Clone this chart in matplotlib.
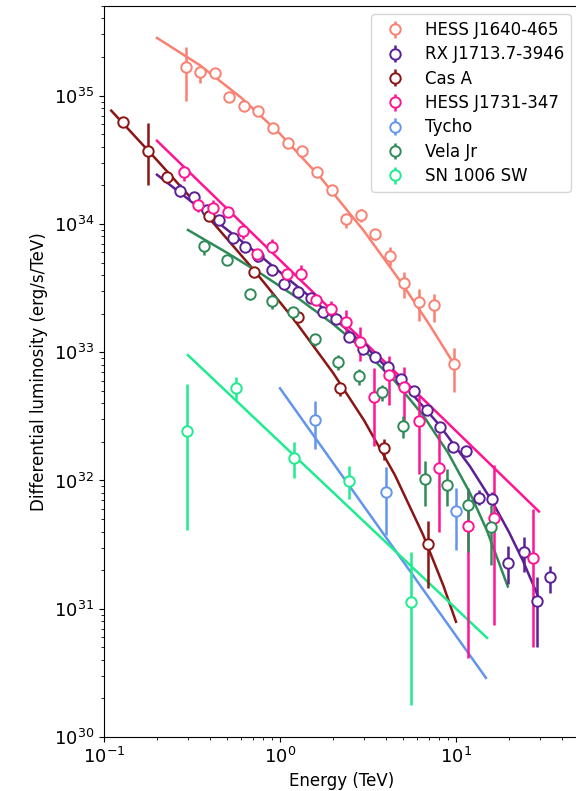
import numpy as np
import matplotlib.pyplot as plt

# ---- data (energy in TeV, luminosity in erg/s/TeV, errors in dex below/above) ----
j1640_E = [0.292, 0.351, 0.427, 0.513, 0.624, 0.750, 0.913, 1.11, 1.33, 1.62,
           1.97, 2.37, 2.89, 3.47, 4.22, 5.06, 6.16, 7.50, 9.75]
j1640_L = [1.66e35, 1.54e35, 1.49e35, 9.8e34, 8.35e34, 7.64e34, 5.62e34, 4.29e34,
           3.72e34, 2.55e34, 1.84e34, 1.09e34, 1.17e34, 8.35e33, 5.62e33, 3.46e33,
           2.46e33, 2.33e33, 8.06e32]
j1640_lo = [0.26, 0.09, 0.02, 0.02, 0.02, 0.02, 0.02, 0.02, 0.02, 0.02,
            0.02, 0.07, 0.05, 0.05, 0.08, 0.12, 0.15, 0.13, 0.22]
j1640_hi = [0.16, 0.05, 0.02, 0.02, 0.02, 0.02, 0.02, 0.02, 0.02, 0.02,
            0.02, 0.03, 0.05, 0.03, 0.07, 0.09, 0.10, 0.09, 0.13]
j1640_fitE = [0.2, 0.35, 0.6, 1.0, 1.7, 3.0, 5.0, 7.0, 10.0]
j1640_fitL = [2.82e35, 1.73e35, 9.68e34, 5.04e34, 2.30e34, 8.81e33, 3.34e33, 1.67e33, 7.64e32]

rxj_E = [0.270, 0.325, 0.385, 0.450, 0.541, 0.633, 0.750, 0.901, 1.054, 1.265,
         1.50, 1.755, 2.08, 2.47, 2.96, 3.47, 4.11, 4.87, 5.77, 6.84,
         8.11, 9.61, 11.4, 13.5, 16.0, 19.7, 24.3, 28.8, 34.2]
rxj_L = [1.81e34, 1.63e34, 1.29e34, 1.07e34, 7.78e33, 6.61e33, 5.62e33, 4.37e33,
         3.40e33, 2.94e33, 2.64e33, 2.05e33, 1.81e33, 1.31e33, 1.05e33, 9.14e32,
         7.64e32, 6.15e32, 4.96e32, 3.52e32, 2.59e32, 1.81e32, 1.69e32, 7.36e31,
         7.23e31, 2.29e31, 2.79e31, 1.15e31, 1.78e31]
rxj_lo = [0.05, 0.03, 0.03, 0.03, 0.03, 0.03, 0.03, 0.03, 0.03, 0.03,
          0.03, 0.03, 0.03, 0.03, 0.03, 0.03, 0.03, 0.03, 0.03, 0.03,
          0.03, 0.03, 0.03, 0.06, 0.05, 0.17, 0.16, 0.36, 0.13]
rxj_hi = [0.05, 0.03, 0.03, 0.03, 0.03, 0.03, 0.03, 0.03, 0.03, 0.03,
          0.03, 0.03, 0.03, 0.03, 0.03, 0.03, 0.03, 0.03, 0.03, 0.03,
          0.03, 0.03, 0.03, 0.06, 0.05, 0.13, 0.11, 0.19, 0.08]
rxj_fitE = [0.2, 0.4, 0.8, 1.5, 3.0, 5.0, 8.0, 12.0, 16.0, 20.0, 24.0, 29.2]
rxj_fitL = [2.42e34, 1.15e34, 5.42e33, 2.66e33, 1.14e33, 5.69e32, 2.73e32,
            1.29e32, 6.92e31, 3.96e31, 2.37e31, 1.26e31]

casa_E = [0.128, 0.178, 0.228, 0.395, 0.711, 1.27, 2.19, 3.90, 6.93]
casa_L = [6.26e34, 3.72e34, 2.33e34, 1.15e34, 4.22e33, 1.88e33, 5.23e32, 1.78e32, 3.22e31]
casa_lo = [0.04, 0.27, 0.03, 0.03, 0.03, 0.03, 0.06, 0.09, 0.35]
casa_hi = [0.04, 0.22, 0.03, 0.03, 0.03, 0.03, 0.03, 0.07, 0.18]
casa_fitE = [0.11, 0.2, 0.4, 0.7, 1.2, 2.0, 3.0, 4.5, 6.5, 8.5, 10.0]
casa_fitL = [7.64e34, 3.14e34, 1.09e34, 4.48e33, 1.80e33, 6.92e32, 2.95e32,
             1.10e32, 3.77e31, 1.50e31, 7.91e30]

j1731_E = [0.285, 0.342, 0.416, 0.507, 0.616, 0.740, 0.901, 1.10, 1.32, 1.60,
           1.95, 2.37, 2.85, 3.42, 4.16, 5.06, 6.16, 8.00, 11.7, 16.4, 27.4]
j1731_L = [2.55e34, 1.41e34, 1.33e34, 1.24e34, 8.82e33, 5.83e33, 6.61e33, 4.07e33,
           4.07e33, 2.55e33, 2.17e33, 1.72e33, 1.20e33, 4.45e32, 6.61e32, 5.33e32,
           2.89e32, 1.26e32, 4.45e31, 5.14e31, 2.50e31]
j1731_lo = [0.07, 0.06, 0.03, 0.03, 0.06, 0.06, 0.03, 0.05, 0.03, 0.03,
            0.03, 0.11, 0.15, 0.38, 0.23, 0.29, 0.41, 0.50, 1.03, 0.84, 0.70]
j1731_hi = [0.03, 0.03, 0.06, 0.03, 0.03, 0.03, 0.06, 0.03, 0.07, 0.03,
            0.06, 0.09, 0.12, 0.23, 0.15, 0.16, 0.20, 0.27, 0.28, 0.41, 0.38]
j1731_fitE = [0.2, 29.6]
j1731_fitL = [4.45e34, 5.73e31]

tycho_E = [1.58, 4.0, 10.0]
tycho_L = [2.94e32, 8.2e31, 5.73e31]
tycho_lo = [0.22, 0.34, 0.30]
tycho_hi = [0.15, 0.19, 0.18]
tycho_fitE = [1.0, 14.8]
tycho_fitL = [5.23e32, 2.89e30]

vela_E = [0.370, 0.500, 0.676, 0.901, 1.186, 1.58, 2.14, 2.81, 3.80, 5.00,
          6.67, 8.89, 11.7, 15.8]
vela_L = [6.73e33, 5.23e33, 2.84e33, 2.50e33, 2.05e33, 1.26e33, 8.35e32, 6.49e32,
          4.87e32, 2.64e32, 1.02e32, 9.30e31, 6.38e31, 4.37e31]
vela_lo = [0.07, 0.03, 0.05, 0.06, 0.03, 0.05, 0.06, 0.07, 0.07, 0.09, 0.21, 0.17, 0.36, 0.30]
vela_hi = [0.03, 0.03, 0.03, 0.06, 0.03, 0.03, 0.06, 0.06, 0.06, 0.08, 0.14, 0.12, 0.14, 0.17]
vela_fitE = [0.3, 0.5, 0.8, 1.3, 2.0, 3.0, 4.5, 6.5, 9.0, 12.0, 15.0, 19.7]
vela_fitL = [8.97e33, 5.96e33, 4.00e33, 2.57e33, 1.66e33, 1.04e33, 5.94e32,
             3.22e32, 1.65e32, 8.0e31, 4.06e31, 1.49e31]

sn1006_E = [0.296, 0.562, 1.20, 2.47, 5.55]
sn1006_L = [2.41e32, 5.23e32, 1.51e32, 9.82e31, 1.13e31]
sn1006_lo = [0.77, 0.09, 0.16, 0.14, 0.80]
sn1006_hi = [0.37, 0.09, 0.12, 0.12, 0.39]
sn1006_fitE = [0.3, 15.0]
sn1006_fitL = [9.48e32, 5.93e30]

sources = [
    ("HESS J1640-465", "#fa8072", j1640_E, j1640_L, j1640_lo, j1640_hi, j1640_fitE, j1640_fitL),
    ("RX J1713.7-3946", "#5b1f96", rxj_E, rxj_L, rxj_lo, rxj_hi, rxj_fitE, rxj_fitL),
    ("Cas A", "#8b1414", casa_E, casa_L, casa_lo, casa_hi, casa_fitE, casa_fitL),
    ("HESS J1731-347", "#ff1493", j1731_E, j1731_L, j1731_lo, j1731_hi, j1731_fitE, j1731_fitL),
    ("Tycho", "#6495ed", tycho_E, tycho_L, tycho_lo, tycho_hi, tycho_fitE, tycho_fitL),
    ("Vela Jr", "#2e8b57", vela_E, vela_L, vela_lo, vela_hi, vela_fitE, vela_fitL),
    ("SN 1006 SW", "#1feb8f", sn1006_E, sn1006_L, sn1006_lo, sn1006_hi, sn1006_fitE, sn1006_fitL),
]

fig = plt.figure(figsize=(5.76, 7.91), dpi=100)
ax = fig.add_axes([104 / 576, 54 / 791, 475 / 576, 731 / 791])

for name, col, E, L, lo, hi, fE, fL in sources:
    L = np.array(L)
    yerr = [L - L * 10 ** -np.array(lo), L * 10 ** np.array(hi) - L]
    ax.plot(fE, fL, color=col, lw=1.8, zorder=2)
    ax.errorbar(E, L, yerr=yerr, fmt='o', color=col, mfc='white', mec=col,
                ms=7.5, mew=1.4, elinewidth=1.8, capsize=0, label=name, zorder=3)

ax.set_xscale('log')
ax.set_yscale('log')
ax.set_xlim(0.1, 50)
ax.set_ylim(1e30, 5e35)
ax.tick_params(labelsize=13)
ax.set_xlabel("Energy (TeV)", fontsize=12)
ax.set_ylabel("Differential luminosity (erg/s/TeV)", fontsize=12)
ax.legend(loc='upper right', fontsize=12, labelspacing=0.38)

fig.savefig("out.png", dpi=100)
